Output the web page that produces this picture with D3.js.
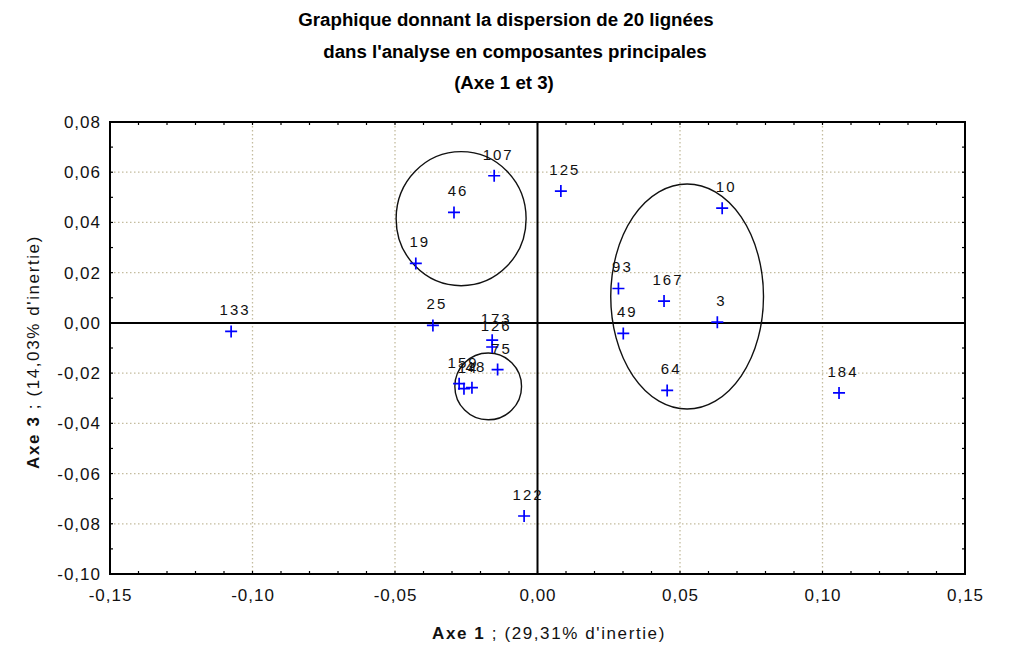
<!DOCTYPE html>
<html>
<head>
<meta charset="utf-8">
<script src="https://cdn.jsdelivr.net/npm/d3@7"></script>
<style>
  html, body { margin: 0; padding: 0; background: #fff; }
  svg { display: block; }
</style>
</head>
<body>
<svg id="chart" width="1017" height="646"></svg>
<script>
// Lines (lignées) projected on PCA axes 1 and 3
const lineLabels = ["133","25","19","46","107","125","10","93","167","3","49","64","184","122","173","126","75","159","14","48"];
const axis1 = [-0.1075,-0.0367,-0.0427,-0.0293,-0.0152,0.0082,0.0648,0.0284,0.0444,0.0631,0.0301,0.0455,0.1058,-0.0047,-0.0159,-0.0159,-0.0140,-0.0275,-0.0258,-0.0230];
const axis3 = [-0.0034,-0.0010,0.0237,0.0440,0.0586,0.0525,0.0457,0.0137,0.0087,0.0003,-0.0042,-0.0269,-0.0279,-0.0769,-0.0069,-0.0096,-0.0186,-0.0242,-0.0262,-0.0258];

// Groups circled on the plane (centre and half-axes, in axis units)
const groupCx = [-0.0268, 0.0525, -0.0173];
const groupCy = [0.0415, 0.0105, -0.0253];
const groupRx = [0.0228, 0.0268, 0.0117];
const groupRy = [0.0267, 0.0448, 0.0133];

const xTicks = [-0.15,-0.10,-0.05,0.00,0.05,0.10,0.15];
const yTicks = [0.08,0.06,0.04,0.02,0.00,-0.02,-0.04,-0.06,-0.08,-0.10];

const titleLines = [
  "Graphique donnant la dispersion de 20 lignées",
  "dans l'analyse en composantes principales",
  "(Axe 1 et 3)"
];

const svg = d3.select("#chart");
const pLeft = 110, pRight = 965, pTop = 122, pBottom = 574;
const x = d3.scaleLinear().domain([-0.15, 0.15]).range([pLeft, pRight]);
const y = d3.scaleLinear().domain([-0.10, 0.08]).range([pBottom, pTop]);

const fr = d3.formatLocale({decimal: ",", thousands: " ", grouping: [3], currency: ["", ""], minus: "-"});
const fmt = fr.format(".2f");
const baseFont = "'Liberation Sans', Arial, sans-serif";

// title
const titleY = [26, 58, 89];
const titleX = [506, 515, 504];
svg.append("g").selectAll("text").data(titleLines).join("text")
  .attr("x", (d, i) => titleX[i]).attr("y", (d, i) => titleY[i])
  .attr("text-anchor", "middle")
  .style("font-family", "'Liberation Sans Narrow', 'Arial Narrow', sans-serif")
  .style("font-weight", "bold").style("font-size", "18.7px").style("fill", "#000")
  .text(d => d);

// dotted grid
const grid = svg.append("g").attr("stroke", "#c4bc9e").attr("stroke-width", 1.3)
  .attr("stroke-dasharray", "1.5,2.5");
grid.selectAll("line.v").data(xTicks.filter(v => Math.abs(v) > 1e-9 && Math.abs(Math.abs(v) - 0.15) > 1e-9))
  .join("line").attr("class", "v")
  .attr("x1", d => x(d)).attr("x2", d => x(d)).attr("y1", pTop).attr("y2", pBottom);
grid.selectAll("line.h").data(yTicks.filter(v => Math.abs(v) > 1e-9 && v < 0.079 && v > -0.099))
  .join("line").attr("class", "h")
  .attr("y1", d => y(d)).attr("y2", d => y(d)).attr("x1", pLeft).attr("x2", pRight);

// zero lines
svg.append("line").attr("x1", x(0)).attr("x2", x(0)).attr("y1", pTop).attr("y2", pBottom)
  .attr("stroke", "#000").attr("stroke-width", 2);
svg.append("line").attr("x1", pLeft).attr("x2", pRight).attr("y1", y(0)).attr("y2", y(0))
  .attr("stroke", "#000").attr("stroke-width", 2);

// axes: labels only, frame drawn separately
const xAxis = d3.axisBottom(x).tickValues(xTicks).tickFormat(fmt).tickSize(0).tickPadding(15);
const gx = svg.append("g").attr("transform", `translate(0,${pBottom})`).call(xAxis);
gx.select(".domain").remove();
gx.selectAll("text").style("font-family", baseFont)
  .style("font-size", "17px").style("letter-spacing", "1px").style("fill", "#111");

const yAxis = d3.axisLeft(y).tickValues(yTicks).tickFormat(fmt).tickSize(0).tickPadding(9);
const gy = svg.append("g").attr("transform", `translate(${pLeft},0)`).call(yAxis);
gy.select(".domain").remove();
gy.selectAll("text").style("font-family", baseFont)
  .style("font-size", "17px").style("letter-spacing", "1px").style("fill", "#111");

// minor inward ticks every 0.01
const minorX = d3.range(-0.14, 0.1401, 0.01);
const minorY = d3.range(-0.09, 0.0701, 0.01);
const ticks = svg.append("g").attr("stroke", "#000").attr("stroke-width", 1.2);
ticks.selectAll("line.bt").data(minorX).join("line").attr("class", "bt")
  .attr("x1", d => x(d)).attr("x2", d => x(d)).attr("y1", pBottom).attr("y2", pBottom - 3);
ticks.selectAll("line.tt").data(minorX).join("line").attr("class", "tt")
  .attr("x1", d => x(d)).attr("x2", d => x(d)).attr("y1", pTop).attr("y2", pTop + 3);
ticks.selectAll("line.lt").data(minorY).join("line").attr("class", "lt")
  .attr("y1", d => y(d)).attr("y2", d => y(d)).attr("x1", pLeft).attr("x2", pLeft + 3);
ticks.selectAll("line.rt").data(minorY).join("line").attr("class", "rt")
  .attr("y1", d => y(d)).attr("y2", d => y(d)).attr("x1", pRight).attr("x2", pRight - 3);

// frame
svg.append("rect").attr("x", pLeft).attr("y", pTop).attr("width", pRight - pLeft).attr("height", pBottom - pTop)
  .attr("fill", "none").attr("stroke", "#000").attr("stroke-width", 2);

// group ellipses
svg.append("g").selectAll("ellipse").data(groupCx).join("ellipse")
  .attr("cx", d => x(d)).attr("cy", (d, i) => y(groupCy[i]))
  .attr("rx", (d, i) => x(d + groupRx[i]) - x(d))
  .attr("ry", (d, i) => y(groupCy[i] - groupRy[i]) - y(groupCy[i]))
  .attr("fill", "none").attr("stroke", "#111").attr("stroke-width", 1.4);

// points
const pts = lineLabels.map((lab, i) => ({lab, a: axis1[i], b: axis3[i]}));
const pg = svg.append("g").selectAll("g").data(pts).join("g")
  .attr("transform", d => `translate(${x(d.a)},${y(d.b)})`);
pg.append("path").attr("d", "M-6,0H6M0,-6V6").attr("stroke", "#0000ff").attr("stroke-width", 1.7);
pg.append("text").attr("x", 4).attr("y", -16).attr("text-anchor", "middle")
  .style("font-family", baseFont).style("font-size", "15px")
  .style("letter-spacing", "2px").style("fill", "#111").text(d => d.lab);

// axis titles
const xt = svg.append("text").attr("x", 549).attr("y", 639).attr("text-anchor", "middle")
  .style("font-family", baseFont).style("font-size", "17px").style("letter-spacing", "1.6px").style("fill", "#111");
xt.append("tspan").style("font-weight", "bold").text("Axe 1");
xt.append("tspan").text(" ;  (29,31% d'inertie)");

const yt = svg.append("text").attr("transform", "translate(39,352) rotate(-90)").attr("text-anchor", "middle")
  .style("font-family", baseFont).style("font-size", "17px").style("letter-spacing", "1.6px").style("fill", "#111");
yt.append("tspan").style("font-weight", "bold").text("Axe 3");
yt.append("tspan").text(" ;  (14,03% d'inertie)");
</script>
</body>
</html>
